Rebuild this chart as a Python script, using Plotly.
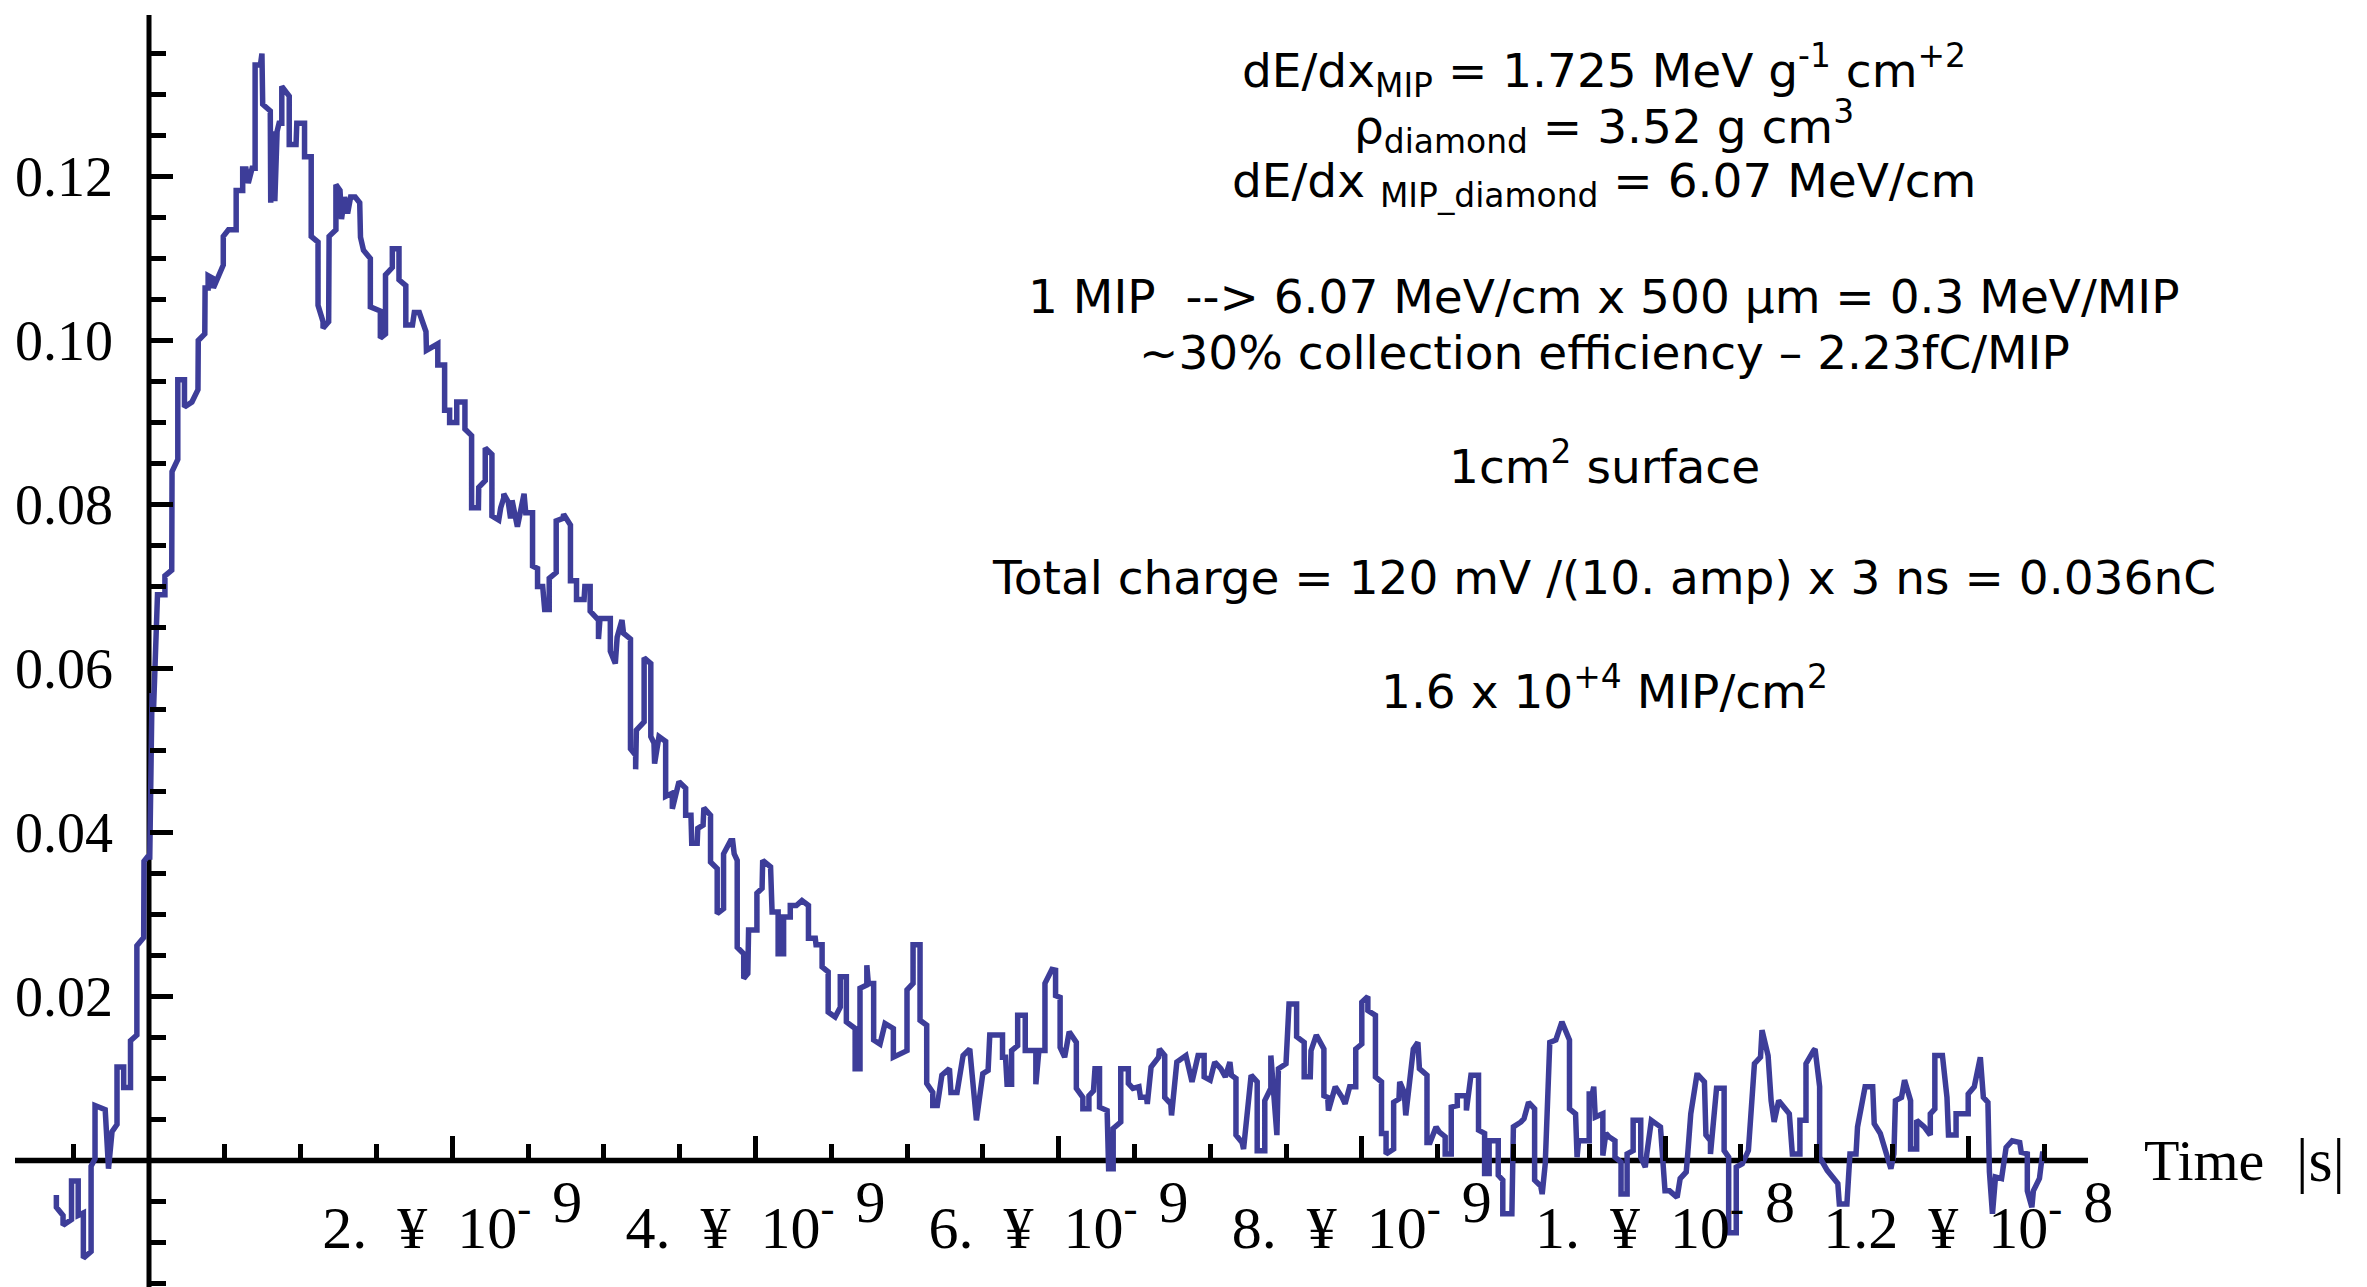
import plotly.graph_objects as go

# ---------------- data ----------------
# time in ns, signal in arbitrary units (V)
time_ns = [
-0.611,-0.611,-0.567,-0.567,-0.511,-0.511,-0.467,-0.467,-0.433,-0.433,-0.382,-0.382,-0.356,-0.356,-0.289,-0.267,-0.244,-0.211,-0.211,-0.167,-0.167,-0.122,-0.122,-0.08,-0.08,-0.035,-0.033,-0.011,
0.005,0.02,0.03,0.045,0.056,
0.105,0.105,0.15,0.152,0.19,0.19,0.234,0.234,0.283,0.323,0.325,0.368,0.37,0.39,0.39,0.42,0.425,0.445,0.49,0.49,0.524,0.575,0.575,0.618,0.618,0.64,0.655,0.68,0.70,0.70,0.735,0.745,0.75,0.80,0.803,0.815,0.83,0.845,0.858,0.876,0.876,0.925,0.925,0.97,0.975,1.026,1.026,1.07,1.07,1.115,1.115,1.148,1.148,1.185,1.188,1.233,1.233,1.26,1.27,1.29,1.31,1.33,1.36,1.39,1.395,
1.415,1.46,1.46,1.526,1.526,1.56,1.56,1.605,1.605,1.649,1.649,1.694,1.694,1.738,1.75,1.783,1.827,1.83,1.905,1.905,1.95,1.95,1.983,1.983,2.03,2.03,2.084,2.084,2.128,2.128,2.173,2.175,2.218,2.218,2.262,2.262,2.307,2.32,2.34,2.34,2.37,2.385,2.395,2.43,2.474,2.485,2.53,2.53,2.563,2.563,2.597,2.61,2.64,2.64,2.686,2.686,2.73,2.735,2.78,2.78,2.82,2.82,2.87,2.875,2.91,2.91,2.965,2.965,2.975,3.043,3.043,3.076,3.088,3.12,3.13,3.176,3.176,3.21,3.21,3.215,3.266,3.266,3.31,3.31,
3.331,3.335,3.364,3.408,3.408,3.452,3.452,3.496,3.54,3.54,3.575,3.58,3.616,3.62,3.655,3.66,3.704,3.704,3.748,3.748,3.79,3.79,3.836,3.85,3.86,3.88,3.88,3.923,3.923,3.95,3.955,4.01,4.01,4.044,4.048,4.1,4.11,4.15,4.15,4.186,4.186,4.23,4.23,4.27,4.307,4.35,4.35,4.395,4.4,4.44,4.44,4.48,4.48,4.526,4.56,4.56,4.6,4.6,4.658,4.658,4.69,4.69,4.735,4.735,4.745,4.78,4.78,4.822,4.855,4.91,4.91,5.0,5.0,5.04,5.04,5.086,5.086,5.13,5.13,5.17,5.17,5.2,5.23,5.28,5.29,5.33,5.37,5.414,5.43,5.458,5.5,5.535,5.546,
5.6,5.63,5.63,5.65,5.66,5.69,5.69,5.73,5.73,5.78,5.78,5.85,5.85,5.87,5.91,5.91,5.956,5.96,
5.98,5.98,6.01,6.01,6.04,6.07,6.117,6.117,6.16,6.16,6.2,6.2,6.23,6.24,6.27,6.27,6.32,6.33,6.36,6.36,6.41,6.41,6.46,6.46,6.49,6.53,6.54,6.58,6.585,6.61,6.66,6.665,6.7,6.7,6.74,6.745,6.78,6.84,6.88,6.92,6.96,6.96,7.0,7.03,7.07,7.1,7.13,7.14,7.17,7.17,7.21,7.22,7.27,7.31,7.31,7.36,7.36,7.4,7.4,7.44,7.45,7.5,7.52,7.57,7.57,7.62,7.62,7.66,7.665,7.7,7.75,7.75,7.775,7.78,7.825,7.87,7.89,7.92,7.96,7.96,8.0,8.0,8.04,8.04,8.09,8.09,8.13,8.13,8.16,8.16,8.21,8.21,8.245,8.25,8.28,8.29,8.34,8.37,8.38,8.43,8.43,8.45,8.49,8.51,8.55,8.55,8.59,8.59,8.63,8.63,8.69,8.69,8.72,8.77,8.77,8.81,8.81,8.84,8.84,8.9,8.9,8.93,8.93,8.99,9.0,9.05,9.07,9.1,9.14,9.14,9.18,9.19,9.21,9.24,9.28,
9.32,9.37,9.37,9.41,9.42,9.43,9.5,9.5,9.52,9.53,9.54,9.59,9.59,9.61,9.63,9.67,9.67,9.71,9.71,9.75,9.75,9.79,9.79,9.84,9.84,9.87,9.88,9.91,9.97,10.0,10.03,10.08,10.1,10.14,10.15,10.17,10.21,10.22,10.26,10.27,10.3,10.3,10.34,10.39,10.39,10.42,10.42,10.47,10.47,10.51,10.55,10.59,10.63,10.64,10.68,10.7,10.72,10.75,10.82,10.84,10.89,10.89,10.93,10.93,10.98,10.99,11.02,11.02,11.07,11.1,11.14,11.15,11.2,11.22,11.26,11.27,11.32,11.37,11.38,11.42,11.49,11.51,11.52,11.56,11.58,11.62,11.62,11.66,11.66,11.71,11.75,11.75,11.78,11.78,11.83,11.86,11.87,11.92,11.92,12.0,12.0,12.04,12.08,12.1,12.13,12.14,12.16,12.18,12.22,12.25,12.29,12.34,12.35,12.39,12.39,12.42,12.43,12.47,12.49,12.52,
]

signal = [
-0.0042,-0.0057,-0.0067,-0.0079,-0.0072,-0.0025,-0.0025,-0.0067,-0.0064,-0.0119,-0.0111,-0.0007,0.0002,0.0067,0.0062,-0.0010,0.0035,0.0044,0.0114,0.0114,0.0089,0.0089,0.0146,0.0153,0.0262,0.0272,0.0365,0.0370,
0.037,0.057,0.055,0.064,0.069,
0.069,0.0713,0.072,0.084,0.0855,0.0952,0.0952,0.0919,0.0925,0.094,0.100,0.1008,0.1064,0.1064,0.1079,0.1076,0.1064,0.1074,0.1092,0.1127,0.1135,0.1135,0.1183,0.1183,0.1209,0.1209,0.1192,0.121,0.121,0.1336,0.1336,0.135,0.1288,0.128,0.1168,0.1255,0.117,0.1255,0.1265,0.1265,0.131,0.1298,0.1239,0.1239,0.1265,0.1265,0.1224,0.1224,0.1127,0.112,0.1043,0.1023,0.1015,0.1023,0.1127,0.1135,0.119,0.1183,0.1148,0.1175,0.1155,0.1175,0.1175,0.1168,0.1126,
0.1110,0.110,0.1041,0.1036,0.1003,0.1008,0.108,0.1089,0.1112,0.1112,0.1074,0.1067,0.1019,0.1019,0.1034,0.1034,0.1011,0.0988,0.0996,0.097,0.097,0.0915,0.0915,0.090,0.090,0.0925,0.0925,0.0892,0.0884,0.0796,0.0796,0.0821,0.0829,0.0869,0.0861,0.0786,0.0781,0.0796,0.0808,0.0813,0.0803,0.0783,0.0805,0.0773,0.0813,0.079,0.079,0.0725,0.0722,0.070,0.070,0.0672,0.0672,0.071,0.0717,0.078,0.0783,0.0788,0.0775,0.0707,0.0707,0.0684,0.0684,0.070,0.070,0.067,0.0659,0.0636,0.0661,0.0661,0.0621,0.0606,0.0638,0.0659,0.0643,0.0636,0.0502,0.0494,0.0477,0.0525,0.0535,0.0613,0.0606,0.0517,
0.0509,0.0484,0.0517,0.0511,0.0444,0.0448,0.0429,0.0462,0.0454,0.0421,0.0421,0.0387,0.0387,0.0405,0.0409,0.043,0.0421,0.0364,0.0356,0.0301,0.0307,0.0374,0.039,0.039,0.0374,0.0366,0.026,0.0252,0.0222,0.0228,0.0281,0.0281,0.0326,0.0332,0.0366,0.0358,0.0303,0.0303,0.0252,0.0252,0.0297,0.0297,0.0311,0.0311,0.0317,0.0311,0.0271,0.0271,0.0263,0.0263,0.0236,0.023,0.0181,0.0175,0.0187,0.0224,0.0224,0.0169,0.0161,0.0112,0.0112,0.021,0.0214,0.0238,0.0216,0.0216,0.0147,0.0142,0.0167,0.0161,0.0126,0.0134,0.0208,0.0216,0.0263,0.0263,0.0171,0.0165,0.0094,0.0083,0.0067,0.0067,0.0104,0.0112,0.0083,0.0083,0.0128,0.0136,0.0104,0.0049,0.0106,0.011,0.0153,
0.0153,0.0153,0.0126,0.0126,0.0093,0.0093,0.0134,0.0140,0.0177,0.0177,0.0134,0.0134,0.0093,0.0134,0.0134,0.0216,0.0233,0.0233,
0.0232,0.0201,0.0199,0.0138,0.0126,0.0157,0.0144,0.0088,0.0077,0.0063,0.0063,0.0079,0.0085,0.0112,0.0112,0.0065,0.0061,-0.001,-0.001,0.0039,0.0047,0.0112,0.0112,0.0094,0.0088,0.009,0.0077,0.0077,0.0069,0.0114,0.0126,0.0136,0.0128,0.0077,0.0069,0.0055,0.012,0.0128,0.0096,0.0128,0.0128,0.0102,0.0098,0.012,0.0112,0.0102,0.012,0.0104,0.0100,0.0031,0.0022,0.0014,0.0104,0.0096,0.0012,0.0012,0.0073,0.0088,0.0128,0.0031,0.0112,0.0118,0.0191,0.0191,0.0151,0.0144,0.0102,0.0102,0.0134,0.0153,0.0136,0.0079,0.0077,0.0061,0.009,0.0077,0.0069,0.009,0.009,0.0136,0.0142,0.0193,0.020,0.0183,0.0177,0.0102,0.0096,0.0033,0.0033,0.0008,0.0014,0.0071,0.0075,0.0096,0.0083,0.0055,0.0136,0.0144,0.0112,0.0104,0.0022,0.0022,0.0041,0.0035,0.0029,0.0008,0.0008,0.0065,0.0067,0.0079,0.0079,0.0061,0.0104,0.0104,0.0037,0.0033,-0.0016,-0.0016,0.0024,0.0024,-0.0018,-0.0024,-0.0065,-0.0065,0.0041,0.0047,0.0051,0.0071,0.0063,-0.0024,-0.0031,-0.0041,-0.0004,0.0144,0.0147,
0.0169,0.0147,0.0063,0.0057,0.0004,0.0024,0.0024,0.0081,0.0081,0.009,0.0053,0.0057,0.0006,0.0033,0.0029,0.0024,0.0004,-0.0002,-0.0041,-0.0041,0.0008,0.0012,0.0049,0.0049,0.0004,-0.0008,0.0008,0.0049,0.0041,-0.0037,-0.0037,-0.0045,-0.0022,-0.0014,0.0008,0.0057,0.0104,0.0104,0.0096,0.0031,0.0024,0.0008,0.0088,0.0088,0.0012,0.0004,-0.0088,-0.0088,-0.0008,-0.0004,0.0012,0.0118,0.0126,0.0159,0.0128,0.0073,0.0047,0.0073,0.0057,0.0008,0.0008,0.0049,0.0049,0.0118,0.0134,0.0136,0.009,0.0004,-0.0012,-0.002,-0.0028,-0.0053,-0.0053,0.0008,0.0008,0.0041,0.009,0.009,0.0045,0.0033,-0.001,0.0008,0.0073,0.0077,0.0098,0.0073,0.0014,0.0014,0.0049,0.0041,0.0031,0.0057,0.0063,0.0128,0.0128,0.0077,0.0031,0.0031,0.0057,0.0057,0.0081,0.009,0.0126,0.0077,0.0071,-0.0014,-0.0065,-0.002,-0.0022,0.0016,0.0024,0.0022,0.001,0.0008,-0.0037,-0.0057,-0.0037,-0.0022,0.0008,0.0008,
]

x_major_ticks = [2e-9, 4e-9, 6e-9, 8e-9, 1e-8, 1.2e-8]
x_major_labels = ["2.", "4.", "6.", "8.", "1.", "1.2"]
x_major_exp = ["9", "9", "9", "9", "8", "8"]
y_major_ticks = [0.02, 0.04, 0.06, 0.08, 0.10, 0.12]
y_major_labels = ["0.02", "0.04", "0.06", "0.08", "0.10", "0.12"]

info_lines = [
    "dE/dx<sub>MIP</sub> = 1.725 MeV g<sup>-1</sup> cm<sup>+2</sup>",
    "\u03c1<sub>diamond</sub> = 3.52 g cm<sup>3</sup>",
    "dE/dx <sub>MIP_diamond</sub> = 6.07 MeV/cm",
    "1 MIP \u00a0--> 6.07 MeV/cm x 500 \u00b5m = 0.3 MeV/MIP",
    "~30% collection efficiency \u2013 2.23fC/MIP",
    "1cm<sup>2</sup> surface",
    "Total charge = 120 mV /(10. amp) x 3 ns = 0.036nC",
    "1.6 x 10<sup>+4</sup> MIP/cm<sup>2</sup>",
]
info_rows_px = [70, 127, 184, 296, 352, 463, 577, 688]

# ---------------- layout geometry ----------------
W, H = 2367, 1287
X0_PX, PX_PER_NS = 149.0, 151.6
Y0_PX, PX_PER_UNIT = 1160.5, 8200.0

x_lo = (0 - X0_PX) / PX_PER_NS * 1e-9
x_hi = (W - X0_PX) / PX_PER_NS * 1e-9
y_hi = Y0_PX / PX_PER_UNIT
y_lo = -(H - Y0_PX) / PX_PER_UNIT

t_sec = [t * 1e-9 for t in time_ns]

blue = "#3d3d99"
serif = "Liberation Serif"

fig = go.Figure()
fig.add_trace(go.Scatter(x=t_sec, y=signal, mode="lines",
                         line=dict(color=blue, width=5.5), hoverinfo="skip"))

x_minor = [k * 0.5e-9 for k in range(-1, 26) if k != 0 and k % 4 != 0]
y_minor = [round(k * 0.005, 4) for k in range(-3, 28) if k != 0 and k % 4 != 0]

x_ticktext = [f"{m}\u2002\u00a5\u200210<sup>-\u2002<span style='font-size:60px'>{e}</span></sup>"
              for m, e in zip(x_major_labels, x_major_exp)]

fig.update_layout(
    width=W, height=H,
    margin=dict(l=0, r=0, t=0, b=0),
    paper_bgcolor="white", plot_bgcolor="white",
    showlegend=False,
    xaxis=dict(range=[x_lo, x_hi], anchor="free", position=1 - Y0_PX / H,
               showgrid=False, zeroline=False, showline=False,
               tickmode="array", tickvals=x_major_ticks, ticktext=x_ticktext,
               ticks="inside", ticklen=25, tickwidth=4.5, tickcolor="black",
               minor=dict(tickmode="array", tickvals=x_minor, ticks="inside",
                          ticklen=17, tickwidth=4.5, tickcolor="black", showgrid=False),
               tickfont=dict(family=serif, size=60, color="black"),
               ticklabelstandoff=26, automargin=False, fixedrange=True),
    yaxis=dict(range=[y_lo, y_hi], anchor="free", position=X0_PX / W,
               showgrid=False, zeroline=False, showline=False,
               tickmode="array", tickvals=y_major_ticks, ticktext=y_major_labels,
               ticks="inside", ticklen=23, tickwidth=4.5, tickcolor="black",
               minor=dict(tickmode="array", tickvals=y_minor, ticks="inside",
                          ticklen=16, tickwidth=4.5, tickcolor="black", showgrid=False),
               tickfont=dict(family=serif, size=56, color="black"),
               ticklabelstandoff=36, automargin=False, fixedrange=True),
)

# axis lines (Mathematica style, crossing at the origin)
fig.add_shape(type="line", xref="x", yref="y",
              x0=(15 - X0_PX) / PX_PER_NS * 1e-9, x1=(2088 - X0_PX) / PX_PER_NS * 1e-9,
              y0=0, y1=0, line=dict(color="black", width=5.5), layer="below")
fig.add_shape(type="line", xref="x", yref="y", x0=0, x1=0,
              y0=y_lo, y1=(Y0_PX - 15) / PX_PER_UNIT,
              line=dict(color="black", width=5), layer="below")

# axis label
fig.add_annotation(x=2142 / W, y=1 - 1160 / H, xref="paper", yref="paper",
                   text="Time", showarrow=False, xanchor="left", yanchor="middle",
                   font=dict(family=serif, size=58, color="black"))
fig.add_annotation(x=2294 / W, y=1 - 1160 / H, xref="paper", yref="paper",
                   text="|s|", showarrow=False, xanchor="left", yanchor="middle",
                   font=dict(family=serif, size=62, color="black"))

for line, py in zip(info_lines, info_rows_px):
    fig.add_annotation(x=1604 / W, y=1 - py / H, xref="paper", yref="paper",
                       text=line, showarrow=False, xanchor="center", yanchor="middle",
                       font=dict(family="DejaVu Sans", size=47, color="black"))

fig.write_html("out.html")
